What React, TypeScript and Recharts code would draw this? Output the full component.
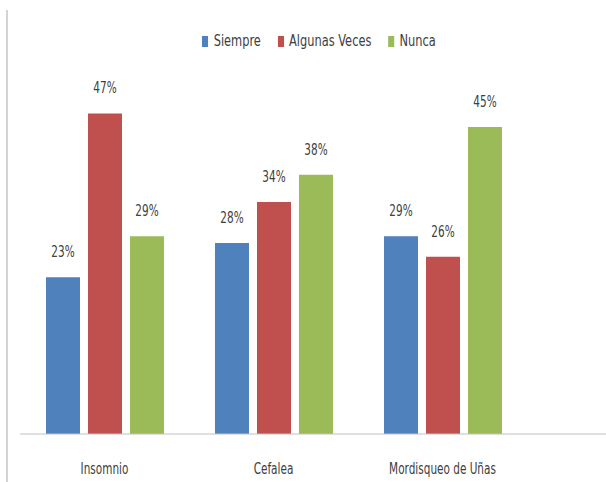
import React from 'react';
import { BarChart, Bar, XAxis, YAxis, Legend, LabelList } from 'recharts';

const categories = ['Insomnio', 'Cefalea', 'Mordisqueo de Uñas'];
const siempre = [23, 28, 29];
const algunasVeces = [47, 34, 26];
const nunca = [29, 38, 45];
const seriesNames = ['Siempre', 'Algunas Veces', 'Nunca'];
const colors = ['#4F81BD', '#C0504D', '#9BBB59'];

const data = categories.map((c, i) => ({
  name: c,
  s: siempre[i],
  a: algunasVeces[i],
  n: nunca[i],
}));

const FONT = '"DejaVu Sans", sans-serif';
const SX = 0.7;
const SX_LEGEND = 0.76;
const FS = 15;
const TXT = '#404040';

const LegendContent = () => (
  <div style={{ display: 'flex', justifyContent: 'center', alignItems: 'center', fontFamily: FONT, fontSize: FS, color: TXT, transform: `scaleX(${SX_LEGEND})`, transformOrigin: 'center' }}>
    {seriesNames.map((n, i) => (
      <div key={n} style={{ display: 'flex', alignItems: 'center', marginRight: i < 2 ? 22 : 0 }}>
        <span style={{ display: 'inline-block', width: 8, height: 11, background: colors[i], marginRight: 7 }} />
        <span>{n}</span>
      </div>
    ))}
  </div>
);

const Tick = (props: any) => {
  const { x, y, payload } = props;
  return (
    <text transform={`translate(${x},${y + 40}) scale(${SX},1)`} textAnchor="middle" fontFamily={FONT} fontSize={FS} fill={TXT}>
      {payload.value}
    </text>
  );
};

const BarLabel = (props: any) => {
  const { x, y, width, value } = props;
  return (
    <text transform={`translate(${x + width / 2},${y - 20}) scale(${SX},1)`} textAnchor="middle" fontFamily={FONT} fontSize={FS} fill={TXT}>
      {`${value}%`}
    </text>
  );
};

export default function App() {
  return (
    <div style={{ position: 'absolute', left: 0, top: 0, width: 606, height: 482, background: '#fff' }}>
      <div style={{ position: 'absolute', left: 6, top: 10, width: 2, height: 472, background: '#d4d4d4' }} />
      <BarChart
        width={606}
        height={482}
        data={data}
        margin={{ top: 75, right: 0, left: 20, bottom: 18 }}
        barSize={34}
        barGap={8}
      >
        <XAxis
          dataKey="name"
          axisLine={{ stroke: '#c0c0c0', strokeWidth: 1 }}
          tickLine={false}
          tickSize={0}
          tickMargin={0}
          height={30}
          padding={{ left: 0, right: 79 }}
          tick={<Tick />}
          interval={0}
        />
        <YAxis hide domain={[0, 50]} />
        <Legend verticalAlign="top" content={<LegendContent />} wrapperStyle={{ top: 32, left: 16, width: 606 }} />
        <Bar dataKey="s" name={seriesNames[0]} fill={colors[0]} isAnimationActive={false}>
          <LabelList dataKey="s" content={<BarLabel />} />
        </Bar>
        <Bar dataKey="a" name={seriesNames[1]} fill={colors[1]} isAnimationActive={false}>
          <LabelList dataKey="a" content={<BarLabel />} />
        </Bar>
        <Bar dataKey="n" name={seriesNames[2]} fill={colors[2]} isAnimationActive={false}>
          <LabelList dataKey="n" content={<BarLabel />} />
        </Bar>
      </BarChart>
    </div>
  );
}
